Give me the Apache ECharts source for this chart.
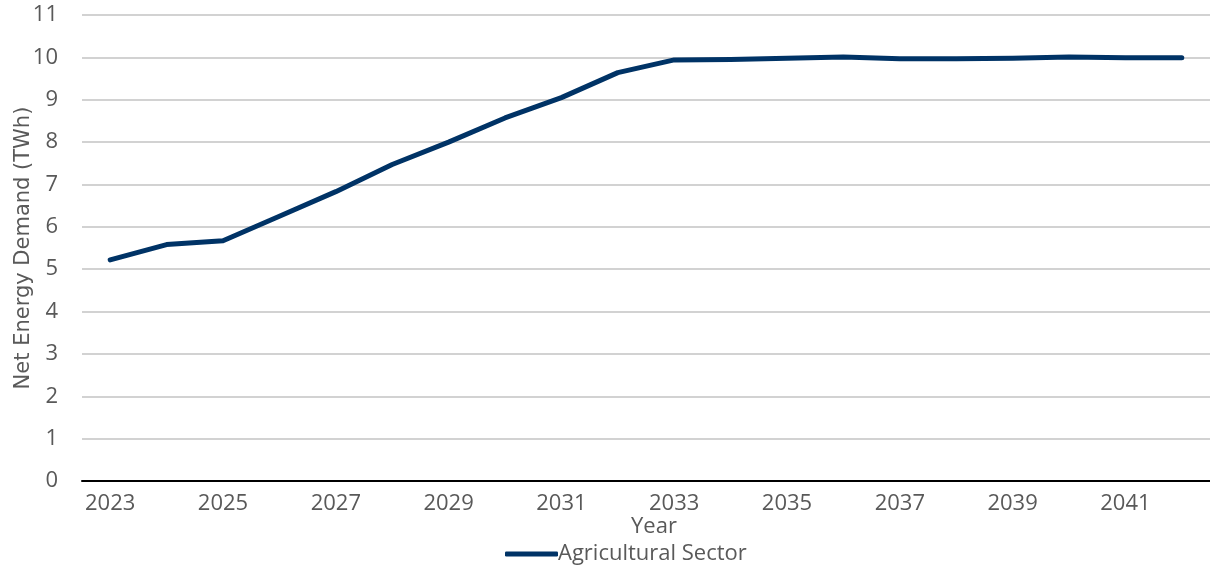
<!DOCTYPE html>
<html>
<head>
<meta charset="utf-8">
<script src="https://cdn.jsdelivr.net/npm/echarts@6/dist/echarts.min.js"></script>
<style>
  html, body { margin: 0; padding: 0; background: #ffffff; }
  #chart { width: 1210px; height: 567px; }
</style>
</head>
<body>
<div id="chart"></div>
<script>
// Projected net energy demand of the agricultural sector, TWh per year
const years = ['2023', '2024', '2025', '2026', '2027', '2028', '2029', '2030', '2031', '2032',
               '2033', '2034', '2035', '2036', '2037', '2038', '2039', '2040', '2041', '2042'];
const agriculturalSector = [5.22, 5.58, 5.67, 6.25, 6.83, 7.47, 8.0, 8.57, 9.05, 9.64,
                            9.94, 9.95, 9.98, 10.01, 9.97, 9.97, 9.98, 10.01, 9.99, 9.99];
const yTicks = { min: 0, max: 11, step: 1 };

const FONT = '"Open Sans", "Noto Sans", sans-serif';
const TEXT = '#595959';

const chart = echarts.init(document.getElementById('chart'), null, { renderer: 'canvas' });
chart.setOption({
  animation: false,
  backgroundColor: '#ffffff',
  textStyle: { fontFamily: FONT },
  grid: { left: 82, right: 0, top: 15, bottom: 86, containLabel: false, outerBoundsMode: 'none' },
  legend: {
    data: ['Agricultural Sector'],
    left: 505,
    bottom: 2,
    icon: 'roundRect',
    itemWidth: 53,
    itemHeight: 5,
    itemGap: 10,
    padding: [0, 0, 0, 0],
    itemStyle: { color: '#003366' },
    textStyle: { fontFamily: FONT, fontSize: 22, color: TEXT, padding: [0, 0, 0, -5] }
  },
  xAxis: {
    type: 'category',
    data: years,
    boundaryGap: true,
    name: 'Year',
    nameLocation: 'middle',
    nameGap: 35,
    nameMoveOverlap: false,
    nameTextStyle: { fontFamily: FONT, fontSize: 22, color: TEXT, padding: [0, 0, 0, 16] },
    axisLine: { show: true, lineStyle: { color: '#000000', width: 2 } },
    axisTick: { show: false },
    axisLabel: { interval: 1, margin: 12, fontFamily: FONT, fontSize: 22, color: TEXT },
    splitLine: { show: false }
  },
  yAxis: {
    type: 'value',
    min: yTicks.min,
    max: yTicks.max,
    interval: yTicks.step,
    name: 'Net Energy Demand (TWh)',
    nameLocation: 'middle',
    nameRotate: 90,
    nameGap: 48,
    nameMoveOverlap: false,
    nameTextStyle: { fontFamily: '"DejaVu Sans", sans-serif', fontSize: 21, color: TEXT },
    axisLine: { show: false },
    axisTick: { show: false },
    axisLabel: { margin: 24, fontFamily: FONT, fontSize: 22, color: TEXT },
    splitLine: { show: true, lineStyle: { color: '#c3c3c3', width: 1.5 } }
  },
  series: [{
    name: 'Agricultural Sector',
    type: 'line',
    data: agriculturalSector,
    symbol: 'none',
    smooth: false,
    lineStyle: { color: '#003366', width: 5, cap: 'round', join: 'round' },
    itemStyle: { color: '#003366' }
  }]
});
</script>
</body>
</html>
